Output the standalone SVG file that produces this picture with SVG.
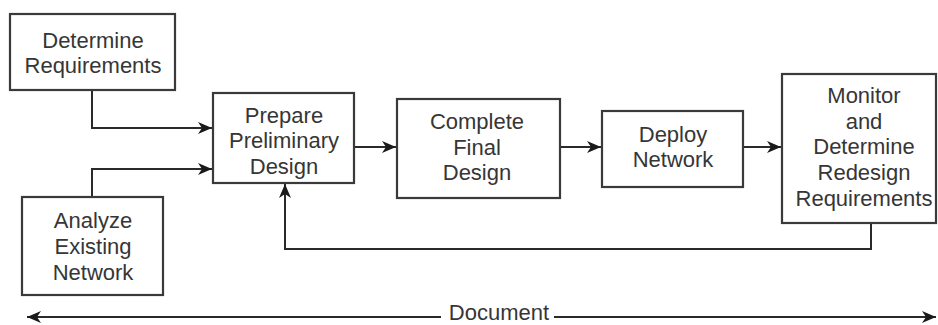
<svg xmlns="http://www.w3.org/2000/svg" width="938" height="325" viewBox="0 0 938 325">
  <style>
    .box { fill: #ffffff; stroke: #3a3a3a; stroke-width: 2.2; }
    .lbl { font-family: "Liberation Sans", Arial, sans-serif; font-size: 22px; fill: #363636; text-anchor: middle; }
    .wire { fill: none; stroke: #2a2a2a; stroke-width: 2; }
  </style>
  <defs>
    <marker id="arrow" markerUnits="userSpaceOnUse" markerWidth="16" markerHeight="14" refX="14" refY="6" orient="auto-start-reverse" viewBox="0 0 16 12">
      <path d="M0,0 L14,6 L0,12 L4,6 Z" fill="#1a1a1a"/>
    </marker>
  </defs>
  <rect width="938" height="325" fill="#ffffff"/>

  <g id="connectors">
    <polyline class="wire" points="92,90 92,128 212,128" marker-end="url(#arrow)"/>
    <polyline class="wire" points="92,197 92,169 212,169" marker-end="url(#arrow)"/>
    <line class="wire" x1="354" y1="147" x2="396" y2="147" marker-end="url(#arrow)"/>
    <line class="wire" x1="560" y1="147" x2="601" y2="147" marker-end="url(#arrow)"/>
    <line class="wire" x1="743" y1="147" x2="781" y2="147" marker-end="url(#arrow)"/>
    <polyline class="wire" points="871,223 871,249 285,249 285,184" marker-end="url(#arrow)"/>
    <line class="wire" x1="441" y1="317" x2="27" y2="317" marker-end="url(#arrow)"/>
    <line class="wire" x1="554" y1="317" x2="936" y2="317" marker-end="url(#arrow)"/>
  </g>

  <g id="determine-requirements">
    <rect class="box" x="10" y="14" width="165" height="76"/>
    <text class="lbl" x="93" y="48">Determine</text>
    <text class="lbl" x="93" y="73">Requirements</text>
  </g>

  <g id="analyze-existing-network">
    <rect class="box" x="22" y="197" width="141" height="98"/>
    <text class="lbl" x="93" y="228">Analyze</text>
    <text class="lbl" x="93" y="254">Existing</text>
    <text class="lbl" x="93" y="280">Network</text>
  </g>

  <g id="prepare-preliminary-design">
    <rect class="box" x="213" y="93" width="141" height="90"/>
    <text class="lbl" x="284" y="123">Prepare</text>
    <text class="lbl" x="284" y="148">Preliminary</text>
    <text class="lbl" x="284" y="174">Design</text>
  </g>

  <g id="complete-final-design">
    <rect class="box" x="397" y="99" width="163" height="99"/>
    <text class="lbl" x="477" y="129">Complete</text>
    <text class="lbl" x="477" y="155">Final</text>
    <text class="lbl" x="477" y="180">Design</text>
  </g>

  <g id="deploy-network">
    <rect class="box" x="602" y="111" width="141" height="76"/>
    <text class="lbl" x="673" y="142">Deploy</text>
    <text class="lbl" x="673" y="167">Network</text>
  </g>

  <g id="monitor-redesign">
    <rect class="box" x="782" y="74" width="154" height="149"/>
    <text class="lbl" x="864" y="103">Monitor</text>
    <text class="lbl" x="864" y="129">and</text>
    <text class="lbl" x="864" y="154">Determine</text>
    <text class="lbl" x="864" y="180">Redesign</text>
    <text class="lbl" x="864" y="206">Requirements</text>
  </g>

  <g id="document">
    <text class="lbl" x="499" y="320">Document</text>
  </g>
</svg>
